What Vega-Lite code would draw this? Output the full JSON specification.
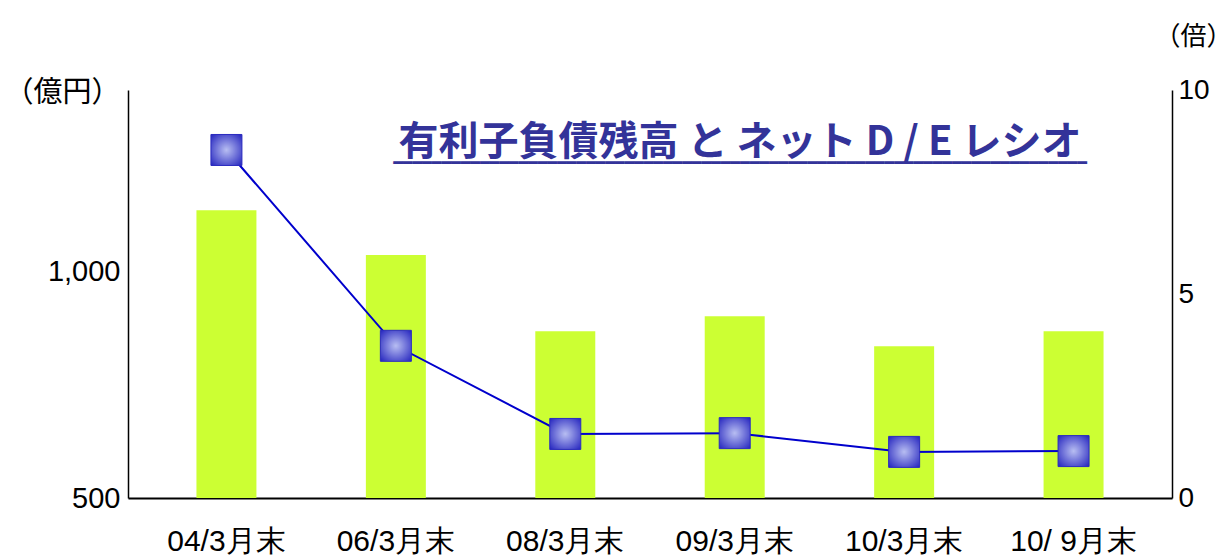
{
  "$schema": "https://vega.github.io/schema/vega-lite/v6.json",
  "width": 1044,
  "height": 408,
  "autosize": {"type": "none"},
  "padding": {"left": 128, "top": 90, "right": 60, "bottom": 59},
  "background": "white",
  "config": {"view": {"stroke": null}, "font": "Liberation Sans"},
  "title": {
    "text": "有利子負債残高 と ネット D / E レシオ",
    "subtitle": "━━━━━━━━━━━━━━━━━━━━━━━━━━━━━━━━━━━━━━━━━━━━━━━━━━━━━━━━━━━━━━━━━━━━━━━━",
    "font": "Noto Sans CJK JP",
    "fontSize": 40,
    "fontWeight": "bold",
    "color": "#333399",
    "subtitleFont": "DejaVu Sans Mono",
    "subtitleFontSize": 16,
    "subtitleColor": "#333399",
    "subtitlePadding": -8,
    "anchor": "middle",
    "frame": "group",
    "dx": 90,
    "offset": -148
  },
  "data": {
    "values": [
      {"period": "04/3月末", "debt": 1135, "de": 8.53},
      {"period": "06/3月末", "debt": 1036, "de": 3.73},
      {"period": "08/3月末", "debt": 868, "de": 1.57},
      {"period": "09/3月末", "debt": 901, "de": 1.59},
      {"period": "10/3月末", "debt": 835, "de": 1.13},
      {"period": "10/ 9月末", "debt": 868, "de": 1.15}
    ]
  },
  "encoding": {
    "x": {
      "field": "period",
      "type": "nominal",
      "sort": null,
      "scale": {"type": "band", "paddingInner": 0.646, "paddingOuter": 0.404},
      "axis": {
        "title": null,
        "labelAngle": 0,
        "labelFont": "Liberation Sans",
        "labelFontSize": 30,
        "labelColor": "black",
        "labelPadding": 28,
        "ticks": false,
        "domainColor": "black",
        "domainWidth": 2
      }
    }
  },
  "layer": [
    {
      "mark": {"type": "bar", "color": "#CCFF33"},
      "encoding": {
        "y": {
          "field": "debt",
          "type": "quantitative",
          "scale": {"domain": [500, 1400], "zero": false, "nice": false},
          "axis": {
            "values": [500, 1000],
            "format": ",d",
            "grid": false,
            "ticks": false,
            "labelFontSize": 29,
            "labelColor": "black",
            "labelPadding": 8,
            "domainColor": "black",
            "domainWidth": 1.5,
            "title": "（億円）",
            "titleFont": "Noto Sans CJK JP",
            "titleFontSize": 29,
            "titleFontWeight": "normal",
            "titleColor": "black",
            "titleAngle": 0,
            "titleAlign": "center",
            "titleBaseline": "middle",
            "titleX": -66,
            "titleY": 2
          }
        },
        "y2": {"datum": 500}
      }
    },
    {
      "mark": {"type": "line", "color": "#0000CC", "strokeWidth": 2},
      "encoding": {
        "y": {
          "field": "de",
          "type": "quantitative",
          "scale": {"domain": [0, 10], "nice": false},
          "axis": {
            "orient": "right",
            "values": [0, 5, 10],
            "grid": false,
            "ticks": false,
            "labelFontSize": 28,
            "labelColor": "black",
            "labelPadding": 6,
            "domainColor": "black",
            "domainWidth": 1.5,
            "title": "（倍）",
            "titleFont": "Noto Sans CJK JP",
            "titleFontSize": 26,
            "titleFontWeight": "normal",
            "titleColor": "black",
            "titleAngle": 0,
            "titleAlign": "right",
            "titleBaseline": "middle",
            "titleX": 60,
            "titleY": -54
          }
        }
      }
    },
    {
      "mark": {
        "type": "point",
        "shape": "square",
        "size": 961,
        "filled": true,
        "opacity": 1,
        "fill": {
          "gradient": "radial",
          "x1": 0.5, "y1": 0.5, "x2": 0.5, "y2": 0.5,
          "r1": 0, "r2": 0.7,
          "stops": [
            {"offset": 0, "color": "#B8BEF2"},
            {"offset": 1, "color": "#2424BE"}
          ]
        },
        "stroke": "#2B2BBF",
        "strokeWidth": 1
      },
      "encoding": {
        "y": {
          "field": "de",
          "type": "quantitative",
          "scale": {"domain": [0, 10], "nice": false},
          "axis": null
        }
      }
    }
  ],
  "resolve": {"scale": {"y": "independent"}}
}
